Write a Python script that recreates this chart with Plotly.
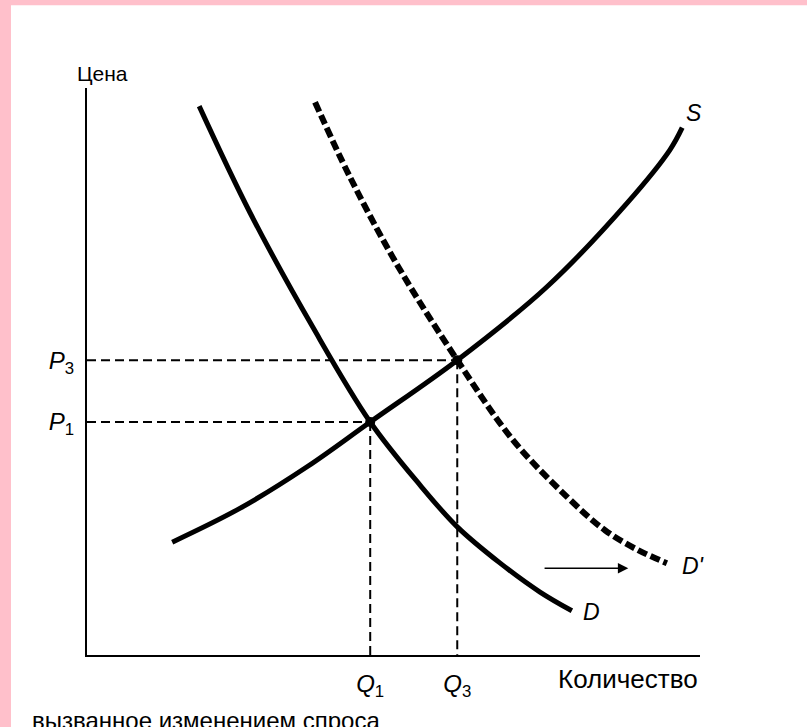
import plotly.graph_objects as go

# ---- data (quantity / price units, 0..100 scale) ----
d_q = [18.3, 26.6, 36.9, 46.2, 54.3, 60.4, 67.4, 73.9, 79.1]
d_p = [96.8, 78.0, 57.7, 41.1, 30.0, 22.6, 16.2, 11.1, 7.8]

d2_q = [37.2, 42.9, 50.6, 60.4, 69.5, 78.3, 84.5, 89.9, 94.6]
d2_p = [97.5, 84.3, 68.8, 52.0, 37.9, 27.9, 22.0, 18.5, 16.2]

s_q = [13.9, 25.0, 35.9, 46.2, 60.4, 75.0, 88.1, 95.1, 97.1]
s_p = [19.9, 25.9, 33.2, 41.1, 52.0, 64.9, 79.7, 89.1, 93.0]

eq_q = [46.2, 60.4]
eq_p = [41.1, 52.0]
q_labels = ["<i>Q</i><sub>1</sub>", "<i>Q</i><sub>3</sub>"]
p_labels = ["<i>P</i><sub>1</sub>", "<i>P</i><sub>3</sub>"]

FONT = "Liberation Sans, Arial, sans-serif"

fig = go.Figure()

# guide lines
for q, p in zip(eq_q, eq_p):
    fig.add_trace(go.Scatter(x=[0, q], y=[p, p], mode="lines",
                             line=dict(color="black", width=2, dash="9px,5px"),
                             hoverinfo="skip", showlegend=False))
    fig.add_trace(go.Scatter(x=[q, q], y=[p, 0], mode="lines",
                             line=dict(color="black", width=2, dash="9px,5px"),
                             hoverinfo="skip", showlegend=False))

fig.add_trace(go.Scatter(x=d_q, y=d_p, mode="lines", line_shape="spline",
                         line=dict(color="black", width=5), showlegend=False))
fig.add_trace(go.Scatter(x=d2_q, y=d2_p, mode="lines", line_shape="spline",
                         line=dict(color="black", width=6, dash="10px,4px"), showlegend=False))
fig.add_trace(go.Scatter(x=s_q, y=s_p, mode="lines", line_shape="spline",
                         line=dict(color="black", width=5), showlegend=False))
fig.add_trace(go.Scatter(x=eq_q, y=eq_p, mode="markers",
                         marker=dict(color="black", size=10), showlegend=False))

# white page on pink background
fig.add_shape(type="rect", xref="paper", yref="paper",
              x0=-0.124, x1=1.18, y0=-0.14, y1=1.146,
              fillcolor="white", line_width=0, layer="below")

ann = [
    dict(text="Цена", x=-0.02, y=1.025, xref="paper", yref="paper",
         xanchor="left", yanchor="middle", font=dict(size=21), showarrow=False),
    dict(text="Количество", x=1.0, y=-0.012, xref="paper", yref="paper",
         xanchor="right", yanchor="top", font=dict(size=26), showarrow=False),
    dict(text="<i>S</i>", x=s_q[-1] + 0.3, y=s_p[-1] + 2.6, xref="x", yref="y",
         xanchor="left", yanchor="middle", font=dict(size=23), showarrow=False),
    dict(text="<i>D'</i>", x=d2_q[-1] + 2.2, y=d2_p[-1] - 0.5, xref="x", yref="y",
         xanchor="left", yanchor="middle", font=dict(size=23), showarrow=False),
    dict(text="<i>D</i>", x=d_q[-1] + 1.5, y=d_p[-1] - 0.3, xref="x", yref="y",
         xanchor="left", yanchor="middle", font=dict(size=23), showarrow=False),
    dict(text="вызванное изменением спроса", x=-0.093, y=-0.116, xref="paper", yref="paper",
         xanchor="left", yanchor="middle", font=dict(size=24), showarrow=False),
    dict(text="", x=88.3, y=15.3, ax=74.4, ay=15.3, xref="x", yref="y",
         axref="x", ayref="y", showarrow=True, arrowhead=2, arrowsize=1.3,
         arrowwidth=1.6, arrowcolor="black"),
]

fig.update_layout(
    width=807, height=727, autosize=False,
    margin=dict(l=87, r=107, t=88, b=72),
    paper_bgcolor="#FFC0CB", plot_bgcolor="white",
    font=dict(family=FONT, color="black"),
    annotations=ann,
    xaxis=dict(range=[0, 100], showgrid=False, zeroline=False, showline=True,
               linecolor="black", linewidth=2, tickvals=eq_q, ticktext=q_labels,
               ticks="", ticklabelstandoff=6, tickfont=dict(size=24)),
    yaxis=dict(range=[0, 100], showgrid=False, zeroline=False, showline=True,
               linecolor="black", linewidth=2, tickvals=eq_p, ticktext=p_labels,
               ticks="", ticklabelstandoff=6, tickfont=dict(size=24)),
)

fig.write_html("out.html", config={"displayModeBar": False},
               post_script="document.body.style.margin='0';document.body.style.background='#FFC0CB';")
